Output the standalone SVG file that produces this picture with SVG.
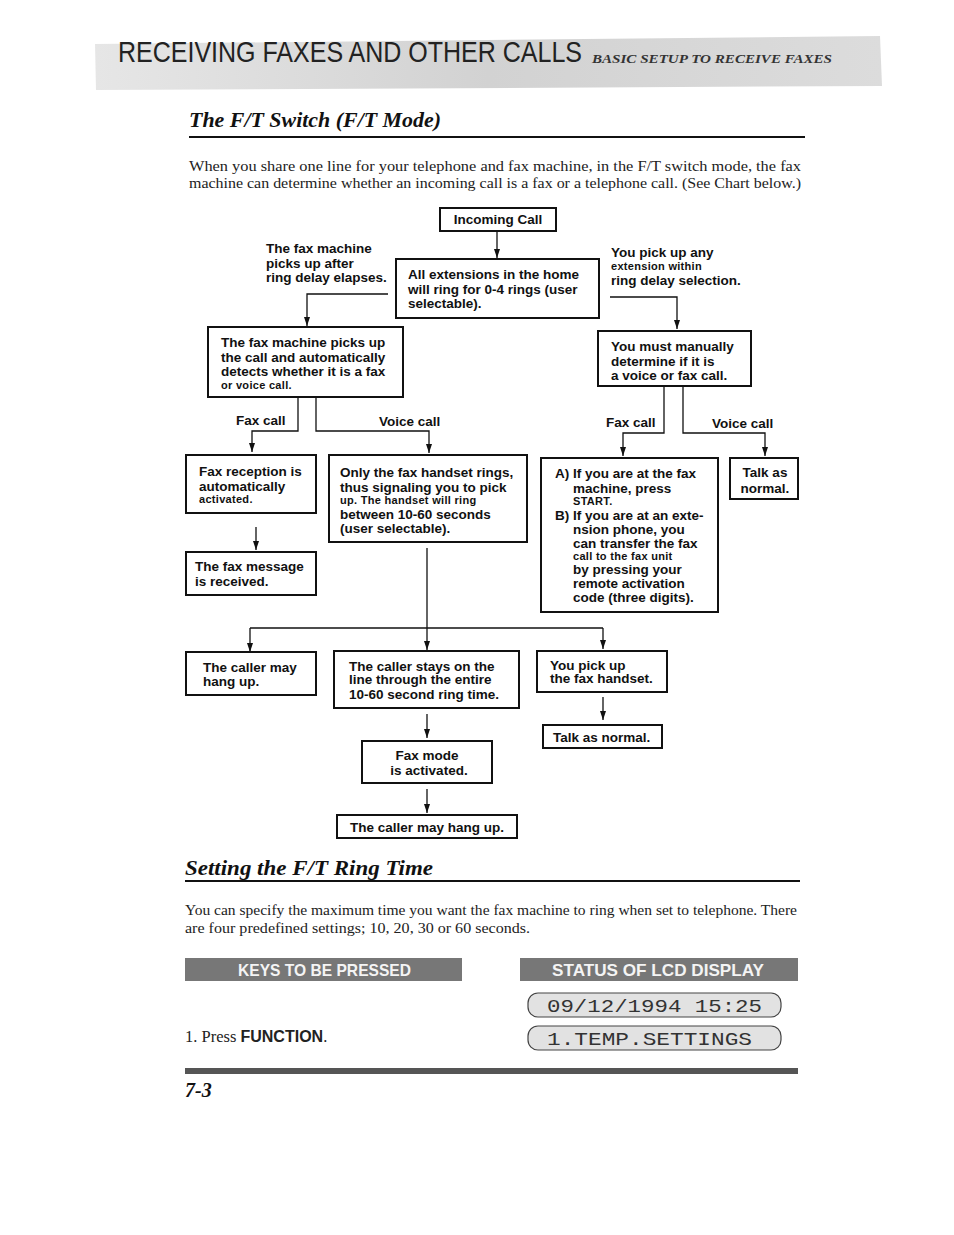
<svg xmlns="http://www.w3.org/2000/svg" width="954" height="1235" viewBox="0 0 954 1235">
<style>
.bx{fill:#fff;stroke:#111;stroke-width:2}
.t{font-family:"Liberation Sans",Arial,sans-serif;font-weight:bold;font-size:13.5px;fill:#111}
.ts{font-family:"Liberation Sans",Arial,sans-serif;font-weight:bold;font-size:11px;fill:#111;letter-spacing:0.3px}
.ser{font-family:"Liberation Serif","Times New Roman",serif;font-size:15.5px;fill:#222}
.h2{font-family:"Liberation Serif","Times New Roman",serif;font-size:20px;font-weight:bold;font-style:italic;fill:#111}
.cn{fill:none;stroke:#111;stroke-width:1.3}
.bar{font-family:"Liberation Sans",Arial,sans-serif;font-weight:bold;font-size:17px;fill:#f4f4f4}
.lcd{fill:#e2e2e2;stroke:#444;stroke-width:1.2}
.mono{font-family:"Liberation Mono","Courier New",monospace;font-size:19px;fill:#333}
</style>
<defs>
<marker id="arr" markerWidth="9" markerHeight="6" refX="9" refY="3" orient="auto" markerUnits="userSpaceOnUse">
<path d="M0,0 L9,3 L0,6 z" fill="#111"/>
</marker>
<linearGradient id="hdr" x1="0" y1="0" x2="1" y2="0">
<stop offset="0" stop-color="#e6e6e6"/><stop offset="0.5" stop-color="#d2d2d2"/><stop offset="1" stop-color="#dcdcdc"/>
</linearGradient>
</defs>

<!-- page header -->
<g id="header">
<polygon points="95,44 880,36 882,86 96,90" fill="url(#hdr)"/>
<text transform="translate(118,62) scale(1,1.18)" x="0" y="0" font-family="Liberation Sans,Arial,sans-serif" font-size="25" fill="#222" textLength="464" lengthAdjust="spacingAndGlyphs">RECEIVING FAXES AND OTHER CALLS</text>
<text x="592" y="63" font-family="Liberation Serif,serif" font-size="13.5" font-style="italic" font-weight="bold" fill="#333" textLength="240" lengthAdjust="spacingAndGlyphs">BASIC SETUP TO RECEIVE FAXES</text>
</g>

<g id="section1">
<text class="h2" x="189" y="127" textLength="252" lengthAdjust="spacingAndGlyphs">The F/T Switch (F/T Mode)</text>
<rect x="189" y="136" width="616" height="2" fill="#111"/>
<text class="ser" x="189" y="171" textLength="612" lengthAdjust="spacingAndGlyphs">When you share one line for your telephone and fax machine, in the F/T switch mode, the fax</text>
<text class="ser" x="189" y="188" textLength="612" lengthAdjust="spacingAndGlyphs">machine can determine whether an incoming call is a fax or a telephone call. (See Chart below.)</text>
</g>

<g id="connectors">
<path class="cn" d="M497,232 V258" marker-end="url(#arr)"/>
<path class="cn" d="M388,294 H307 V326" marker-end="url(#arr)"/>
<path class="cn" d="M610,297 H677 V329" marker-end="url(#arr)"/>
<path class="cn" d="M298,398 V431 H252 V452" marker-end="url(#arr)"/>
<path class="cn" d="M316,398 V431 H429 V453" marker-end="url(#arr)"/>
<path class="cn" d="M664,387 V433 H623 V456" marker-end="url(#arr)"/>
<path class="cn" d="M683,387 V433 H765 V456" marker-end="url(#arr)"/>
<path class="cn" d="M256,527 V550" marker-end="url(#arr)"/>
<path class="cn" d="M427,548 V650" marker-end="url(#arr)"/>
<path class="cn" d="M250,628 H603"/>
<path class="cn" d="M250,628 V652" marker-end="url(#arr)"/>
<path class="cn" d="M603,628 V649" marker-end="url(#arr)"/>
<path class="cn" d="M427,714 V738" marker-end="url(#arr)"/>
<path class="cn" d="M603,697 V720" marker-end="url(#arr)"/>
<path class="cn" d="M427,789 V813" marker-end="url(#arr)"/>
</g>

<g id="lbl-left">
<text class="t" x="266" y="253">The fax machine</text>
<text class="t" x="266" y="268">picks up after</text>
<text class="t" x="266" y="282">ring delay elapses.</text>
</g>
<g id="lbl-right">
<text class="t" x="611" y="257">You pick up any</text>
<text class="ts" x="611" y="270">extension within</text>
<text class="t" x="611" y="285">ring delay selection.</text>
</g>
<g id="lbl-branches">
<text class="t" x="236" y="425">Fax call</text>
<text class="t" x="379" y="426">Voice call</text>
<text class="t" x="606" y="427">Fax call</text>
<text class="t" x="712" y="428">Voice call</text>
</g>

<g id="n-incoming">
<rect class="bx" x="440" y="208" width="116" height="23"/>
<text class="t" x="498" y="224" text-anchor="middle">Incoming Call</text>
</g>

<g id="n-extensions">
<rect class="bx" x="396" y="259" width="203" height="59"/>
<text class="t" x="408" y="279">All extensions in the home</text>
<text class="t" x="408" y="294">will ring for 0-4 rings (user</text>
<text class="t" x="408" y="308">selectable).</text>
</g>

<g id="n-fax-picks-up">
<rect class="bx" x="208" y="327" width="195" height="70"/>
<text class="t" x="221" y="347">The fax machine picks up</text>
<text class="t" x="221" y="362">the call and automatically</text>
<text class="t" x="221" y="376">detects whether it is a fax</text>
<text class="ts" x="221" y="389">or voice call.</text>
</g>

<g id="n-manual">
<rect class="bx" x="598" y="331" width="153" height="55"/>
<text class="t" x="611" y="351">You must manually</text>
<text class="t" x="611" y="366">determine if it is</text>
<text class="t" x="611" y="380">a voice or fax call.</text>
</g>

<g id="n-fax-reception">
<rect class="bx" x="186" y="455" width="130" height="58"/>
<text class="t" x="199" y="476">Fax reception is</text>
<text class="t" x="199" y="491">automatically</text>
<text class="ts" x="199" y="503">activated.</text>
</g>

<g id="n-handset-rings">
<rect class="bx" x="329" y="455" width="198" height="87"/>
<text class="t" x="340" y="477">Only the fax handset rings,</text>
<text class="t" x="340" y="492">thus signaling you to pick</text>
<text class="ts" x="340" y="504">up. The handset will ring</text>
<text class="t" x="340" y="519">between 10-60 seconds</text>
<text class="t" x="340" y="533">(user selectable).</text>
</g>

<g id="n-ab">
<rect class="bx" x="541" y="458" width="177" height="154"/>
<text class="t" x="555" y="478">A) If you are at the fax</text>
<text class="t" x="573" y="493">machine, press</text>
<text class="ts" x="573" y="505">START.</text>
<text class="t" x="555" y="520">B) If you are at an exte-</text>
<text class="t" x="573" y="534">nsion phone, you</text>
<text class="t" x="573" y="548">can transfer the fax</text>
<text class="ts" x="573" y="560">call to the fax unit</text>
<text class="t" x="573" y="574">by pressing your</text>
<text class="t" x="573" y="588">remote activation</text>
<text class="t" x="573" y="602">code (three digits).</text>
</g>

<g id="n-talk1">
<rect class="bx" x="730" y="458" width="68" height="41"/>
<text class="t" x="765" y="477" text-anchor="middle">Talk as</text>
<text class="t" x="765" y="493" text-anchor="middle">normal.</text>
</g>

<g id="n-fax-received">
<rect class="bx" x="186" y="552" width="130" height="43"/>
<text class="t" x="195" y="571">The fax message</text>
<text class="t" x="195" y="586">is received.</text>
</g>

<g id="n-caller-hang1">
<rect class="bx" x="186" y="652" width="130" height="43"/>
<text class="t" x="203" y="672">The caller may</text>
<text class="t" x="203" y="686">hang up.</text>
</g>

<g id="n-caller-stays">
<rect class="bx" x="334" y="651" width="185" height="57"/>
<text class="t" x="349" y="671">The caller stays on the</text>
<text class="t" x="349" y="684">line through the entire</text>
<text class="t" x="349" y="699">10-60 second ring time.</text>
</g>

<g id="n-pickup">
<rect class="bx" x="537" y="651" width="130" height="41"/>
<text class="t" x="550" y="670">You pick up</text>
<text class="t" x="550" y="683">the fax handset.</text>
</g>

<g id="n-talk2">
<rect class="bx" x="543" y="725" width="119" height="23"/>
<text class="t" x="553" y="742">Talk as normal.</text>
</g>

<g id="n-faxmode">
<rect class="bx" x="362" y="741" width="130" height="42"/>
<text class="t" x="427" y="760" text-anchor="middle">Fax mode</text>
<text class="t" x="429" y="775" text-anchor="middle">is activated.</text>
</g>

<g id="n-caller-hang2">
<rect class="bx" x="337" y="815" width="180" height="23"/>
<text class="t" x="427" y="832" text-anchor="middle">The caller may hang up.</text>
</g>

<g id="section2">
<text class="h2" x="185" y="875" textLength="248" lengthAdjust="spacingAndGlyphs">Setting the F/T Ring Time</text>
<rect x="185" y="880" width="615" height="2" fill="#111"/>
<text class="ser" x="185" y="915" textLength="612" lengthAdjust="spacingAndGlyphs">You can specify the maximum time you want the fax machine to ring when set to telephone. There</text>
<text class="ser" x="185" y="933" textLength="345" lengthAdjust="spacingAndGlyphs">are four predefined settings; 10, 20, 30 or 60 seconds.</text>
</g>

<g id="keys-bar">
<rect x="185" y="958" width="277" height="23" fill="#777"/>
<text class="bar" x="238" y="976" textLength="173" lengthAdjust="spacingAndGlyphs">KEYS TO BE PRESSED</text>
</g>
<g id="status-bar">
<rect x="520" y="958" width="278" height="23" fill="#777"/>
<text class="bar" x="552" y="976" textLength="212" lengthAdjust="spacingAndGlyphs">STATUS OF LCD DISPLAY</text>
</g>

<g id="lcd1">
<rect class="lcd" x="528" y="993" width="253" height="24" rx="10"/>
<text class="mono" x="547" y="1012" textLength="215" lengthAdjust="spacingAndGlyphs">09/12/1994 15:25</text>
</g>
<g id="lcd2">
<rect class="lcd" x="528" y="1026" width="253" height="24" rx="10"/>
<text class="mono" x="547" y="1045" textLength="205" lengthAdjust="spacingAndGlyphs">1.TEMP.SETTINGS</text>
</g>

<g id="step1">
<text x="185" y="1042" font-family="Liberation Serif,serif" font-size="16.5" fill="#222">1. Press <tspan font-family="Liberation Sans,Arial,sans-serif" font-weight="bold" font-size="16">FUNCTION</tspan>.</text>
</g>

<g id="footer">
<rect x="185" y="1068" width="613" height="6" fill="#555"/>
<text class="h2" x="185" y="1097" font-size="21">7-3</text>
</g>
</svg>
